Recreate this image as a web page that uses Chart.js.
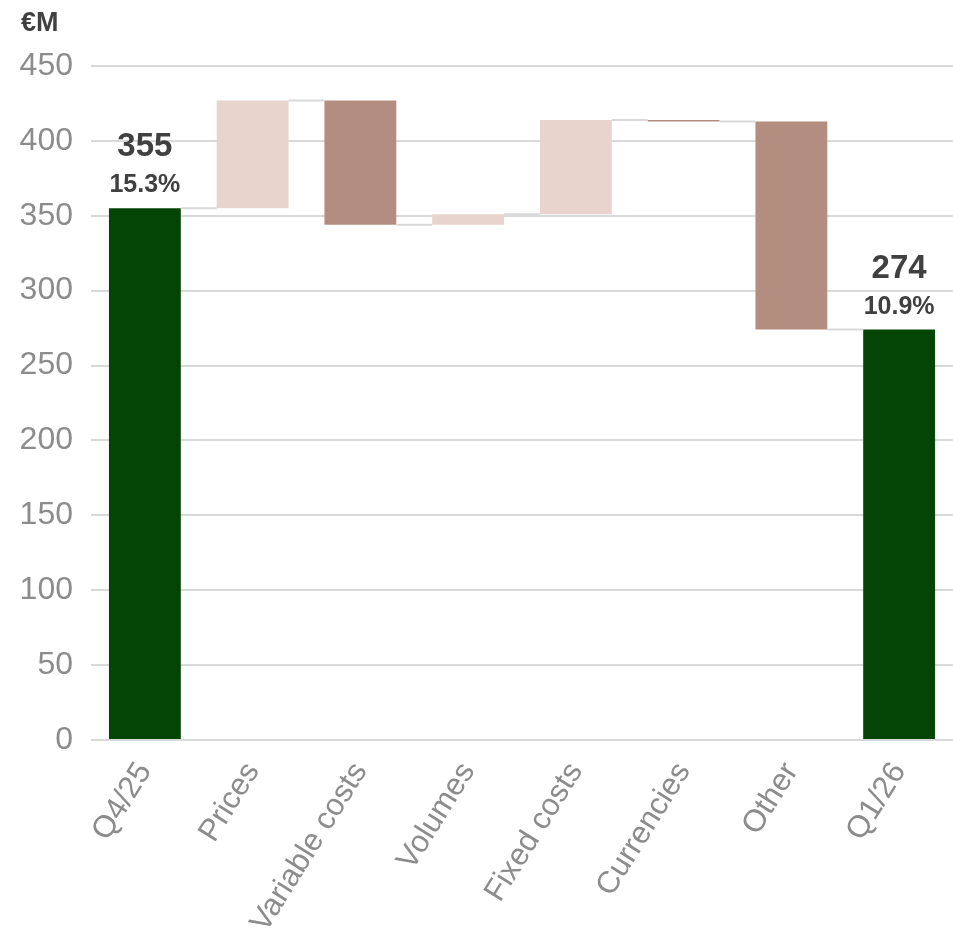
<!DOCTYPE html>
<html>
<head>
<meta charset="utf-8">
<script src="https://cdn.jsdelivr.net/npm/chart.js@4.4.0/dist/chart.umd.min.js"></script>
<style>
  body { margin: 0; background: #fff; }
  #wrap { position: relative; width: 953px; height: 940px; }
  #unit { position: absolute; left: 21px; top: 7px; font: bold 27px "Liberation Sans", Arial, sans-serif; color: #404040; }
</style>
</head>
<body>
<div id="wrap">
  <div id="unit">€M</div>
  <canvas id="chart" width="953" height="940"></canvas>
</div>
<script>
const categories = ['Q4/25', 'Prices', 'Variable costs', 'Volumes', 'Fixed costs', 'Currencies', 'Other', 'Q1/26'];
const changes = [355, 72, -83, 7, 63, -1, -139, 274];
const isTotal = [true, false, false, false, false, false, false, true];
const margins = ['15.3%', '', '', '', '', '', '', '10.9%'];
const yTicks = [0, 50, 100, 150, 200, 250, 300, 350, 400, 450];

const GREEN = '#044404';
const UP = '#e8d4cd';
const DOWN = '#b38d7f';

// build floating bars [low, high] from running total
const ranges = [];
const colors = [];
let running = 0;
for (let i = 0; i < changes.length; i++) {
    if (isTotal[i]) {
        running = changes[i];
        ranges.push([0, running]);
        colors.push(GREEN);
    } else {
        const start = running;
        running += changes[i];
        ranges.push([Math.min(start, running), Math.max(start, running)]);
        colors.push(changes[i] >= 0 ? UP : DOWN);
    }
}
const levels = ranges.map((r, i) => isTotal[i] ? r[1] : (changes[i] >= 0 ? r[1] : r[0]));

const connectors = {
    id: 'connectors',
    afterDatasetsDraw(chart) {
        const ctx = chart.ctx;
        const meta = chart.getDatasetMeta(0);
        const y = chart.scales.y;
        ctx.save();
        ctx.strokeStyle = '#d9d9d9';
        ctx.lineWidth = 2;
        for (let i = 0; i < meta.data.length - 1; i++) {
            const a = meta.data[i], b = meta.data[i + 1];
            const py = y.getPixelForValue(levels[i]);
            ctx.beginPath();
            ctx.moveTo(a.x + a.width / 2, py);
            ctx.lineTo(b.x - b.width / 2, py);
            ctx.stroke();
        }
        ctx.restore();
    }
};

const totalLabels = {
    id: 'totalLabels',
    afterDatasetsDraw(chart) {
        const ctx = chart.ctx;
        const meta = chart.getDatasetMeta(0);
        const y = chart.scales.y;
        ctx.save();
        ctx.fillStyle = '#404040';
        ctx.textAlign = 'center';
        ctx.textBaseline = 'alphabetic';
        for (let i = 0; i < categories.length; i++) {
            if (!isTotal[i]) continue;
            const top = y.getPixelForValue(ranges[i][1]);
            const x = meta.data[i].x;
            ctx.font = 'bold 33px "Liberation Sans", Arial, sans-serif';
            ctx.fillText(String(changes[i]), x, top - 52);
            ctx.font = 'bold 25px "Liberation Sans", Arial, sans-serif';
            ctx.fillText(margins[i], x, top - 16);
        }
        ctx.restore();
    }
};

new Chart(document.getElementById('chart'), {
    type: 'bar',
    data: {
        labels: categories,
        datasets: [{
            data: ranges,
            backgroundColor: colors,
            borderWidth: 0,
            borderSkipped: false,
            categoryPercentage: 1,
            barPercentage: 0.667
        }]
    },
    options: {
        responsive: false,
        animation: false,
        layout: { padding: { left: 0, top: 66, right: 0, bottom: 0 } },
        plugins: {
            legend: { display: false },
            tooltip: { enabled: false }
        },
        scales: {
            y: {
                min: 0,
                max: 450,
                afterBuildTicks: (axis) => { axis.ticks = yTicks.map(v => ({ value: v })); },
                afterFit: (axis) => { axis.width = 91; },
                grid: { color: '#d9d9d9', lineWidth: 2, drawTicks: false },
                border: { display: false },
                ticks: {
                    color: '#8c8c8c',
                    padding: 18,
                    font: { family: '"Liberation Sans", Arial, sans-serif', size: 32 }
                }
            },
            x: {
                afterFit: (axis) => { axis.height = 200; },
                grid: { display: false },
                border: { display: false },
                ticks: {
                    color: '#8c8c8c',
                    minRotation: 58,
                    maxRotation: 58,
                    padding: 8,
                    font: { family: '"Liberation Sans", Arial, sans-serif', size: 31 }
                }
            }
        }
    },
    plugins: [connectors, totalLabels]
});
</script>
</body>
</html>
